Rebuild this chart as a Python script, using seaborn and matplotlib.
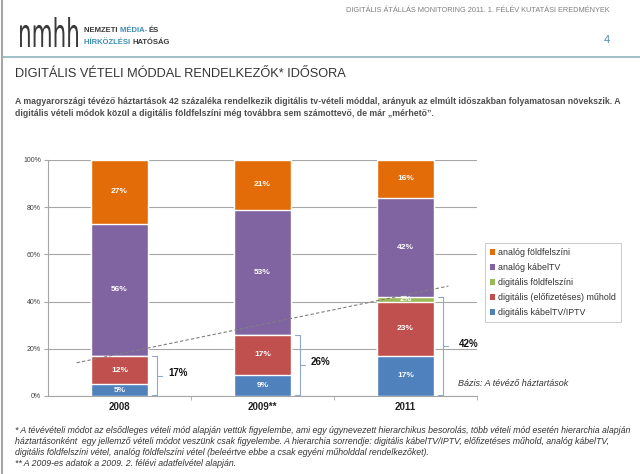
import numpy as np
import pandas as pd
import matplotlib
matplotlib.use("Agg")
import matplotlib.pyplot as plt
from matplotlib.patches import Patch, PathPatch
from matplotlib.lines import Line2D
from matplotlib.textpath import TextPath
from matplotlib.font_manager import FontProperties
from matplotlib.transforms import Affine2D
import seaborn as sns

# ---- data ----
years = ["2008", "2009**", "2011"]
series = ["digitális kábelTV/IPTV", "digitális (előfizetéses) műhold",
          "digitális földfelszíni", "analóg kábelTV", "analóg földfelszíni"]
dig_kabel = [5, 9, 17]
dig_muhold = [12, 17, 23]
dig_fold = [0, 0, 2]
an_kabel = [56, 53, 42]
an_fold = [27, 21, 16]
dig_total_labels = ["17%", "26%", "42%"]
yticks = [0, 20, 40, 60, 80, 100]

colors = {"digitális kábelTV/IPTV": "#4F81BD",
          "digitális (előfizetéses) műhold": "#C0504D",
          "digitális földfelszíni": "#9BBB59",
          "analóg kábelTV": "#8064A2",
          "analóg földfelszíni": "#E36C09"}

sns.set_style("white")
plt.rcParams["font.family"] = ["Liberation Sans", "DejaVu Sans"]

fig = plt.figure(figsize=(6.4, 4.74), dpi=100)
W, H = 640, 474
ax = fig.add_axes([48 / W, 1 - 396 / H, (477 - 48) / W, (396 - 160) / H])

vals = [dig_kabel, dig_muhold, dig_fold, an_kabel, an_fold]
df = pd.DataFrame({s: v for s, v in zip(series, vals)}, index=years)
cum = df.cumsum(axis=1)

# draw cumulative bars from top layer down (overlay stacking)
for s in reversed(series):
    d = pd.DataFrame({"year": years, "val": cum[s].values})
    sns.barplot(data=d, x="year", y="val", color=colors[s], width=0.4,
                saturation=1, ax=ax, zorder=3)

# labels in segments
for i, y in enumerate(years):
    base = 0
    for s in series:
        v = df.loc[y, s]
        if v > 0:
            ax.text(i, base + v / 2, f"{v}%",
                    ha="center", va="center", color="white",
                    fontsize=6, fontweight="bold", zorder=5)
        base += v

# grid & axes
ax.set_ylim(0, 100)
ax.set_xlim(-0.5, 2.5)
ax.set_yticks(yticks)
ax.set_yticklabels([f"{t}%" for t in yticks], fontsize=5, color="#404040")
ax.yaxis.grid(True, color="#A6A6A6", linewidth=0.8, zorder=0)
ax.set_axisbelow(True)
for sp in ["top", "right"]:
    ax.spines[sp].set_visible(False)
for sp in ["left", "bottom"]:
    ax.spines[sp].set_color("#A6A6A6")
    ax.spines[sp].set_linewidth(0.8)
ax.tick_params(axis="y", length=3, color="#A6A6A6", pad=2, left=True)
ax.set_xticks(range(len(years)))
ax.set_xticklabels(years, fontsize=7, fontweight="bold", color="#222222")
ax.tick_params(axis="x", length=0, pad=4)
ax.set_xticks([0.5, 1.5, 2.5], minor=True)
ax.tick_params(axis="x", which="minor", length=3, color="#A6A6A6", bottom=True)
ax.set_xlabel("")
ax.set_ylabel("")

# trend line of digital totals
totals = np.array(dig_kabel) + np.array(dig_muhold) + np.array(dig_fold)
xs = np.arange(len(years))
k, b = np.polyfit(xs, totals, 1)
xt = np.array([-0.3, 2.3])
ax.plot(xt, k * xt + b + 2, ls=(0, (3, 2)), color="#7F7F7F", lw=0.8, zorder=6)

# brackets
bc = "#8EA9C8"
for i, t in enumerate(totals):
    xb = i + 0.26
    ax.plot([xb - 0.03, xb, xb, xb - 0.03], [0.3, 0.3, t, t],
            color=bc, lw=0.8, zorder=6, clip_on=False)
    ax.plot([xb, xb + 0.04], [t / 2, t / 2], color=bc, lw=0.8, zorder=6,
            clip_on=False)
    ax.text(xb + 0.08 + (0.03 if i == 2 else 0), t / 2 + 1.2, dig_total_labels[i],
            fontsize=7, fontweight="bold", ha="left", va="center",
            color="#111111", clip_on=False)

# legend
handles = [Patch(facecolor=colors[s], edgecolor="none") for s in reversed(series)]
leg = fig.legend(handles, list(reversed(series)), loc="upper left",
                 bbox_to_anchor=(485 / W, 1 - 243 / H), frameon=True,
                 fontsize=6.4, handlelength=0.6, handleheight=0.6,
                 handletextpad=0.3, labelspacing=0.68, borderpad=0.55,
                 fancybox=False, borderaxespad=0)
leg.get_frame().set_edgecolor("#BFBFBF")
leg.get_frame().set_linewidth(0.7)
for t in leg.get_texts():
    t.set_color("#333333")

fig.text(458 / W, 1 - 383 / H, "Bázis: A tévéző háztartások", fontsize=6.5,
         style="italic", color="#333333", va="center")

# ---- slide decoration ----
renderer = fig.canvas.get_renderer()
fig.add_artist(Line2D([2 / W, 2 / W], [0, 1], color="#A6A6A6", lw=1.5))
fig.add_artist(Line2D([2 / W, 1], [1 - 57 / H, 1 - 57 / H], color="#8FB4BE", lw=1.2))
fig.text(610 / W, 1 - 10 / H,
         "DIGITÁLIS ÁTÁLLÁS MONITORING 2011. 1. FÉLÉV KUTATÁSI EREDMÉNYEK",
         fontsize=5.3, color="#7F7F7F", ha="right", va="center")
fig.text(610 / W, 1 - 40 / H, "4", fontsize=8, color="#4A8CA8", ha="right",
         va="center")

# logo: text path stretched into its box (x 20..78, y 17..47 px)
tp = TextPath((0, 0), "nmhh", size=1, prop=FontProperties(family="DejaVu Sans"))
ext = tp.get_extents()
bx0, bx1, by0, by1 = 20 / W, 78 / W, 1 - 47 / H, 1 - 17 / H
tr = (Affine2D().translate(-ext.x0, -ext.y0)
      .scale((bx1 - bx0) / ext.width, (by1 - by0) / ext.height)
      .translate(bx0, by0) + fig.transFigure)
fig.add_artist(PathPatch(tp, transform=tr, facecolor="#3A3A3A", edgecolor="none"))


def chain(x, y, parts):
    for txt, col in parts:
        t = fig.text(x / W, 1 - y / H, txt, fontsize=5.5, color=col,
                     ha="left", va="center", fontweight="bold")
        bb = t.get_window_extent(renderer=renderer)
        x += bb.width


chain(84, 31, [("NEMZETI ", "#3A3A3A"), ("MÉDIA- ", "#3D8DB0"), ("ÉS", "#3A3A3A")])
chain(84, 42, [("HÍRKÖZLÉSI ", "#3D8DB0"), ("HATÓSÁG", "#3A3A3A")])

fig.text(15 / W, 1 - 74 / H, "DIGITÁLIS VÉTELI MÓDDAL RENDELKEZŐK* IDŐSORA",
         fontsize=9.2, color="#333333", ha="left", va="center")
body = ("A magyarországi tévéző háztartások 42 százaléka rendelkezik digitális tv-vételi móddal, "
        "arányuk az elmúlt időszakban folyamatosan növekszik. A\n"
        "digitális vételi módok közül a digitális földfelszíni még továbbra sem számottevő, de már „mérhető”.")
fig.text(15 / W, 1 - 97.5 / H, body, fontsize=6.3, color="#4D4D4D", ha="left",
         va="top", fontweight="bold", linespacing=1.4)

foot = ("* A tévévételi módot az elsődleges vételi mód alapján vettük figyelembe, ami egy úgynevezett hierarchikus besorolás, több vételi mód esetén hierarchia alapján\n"
        "háztartásonként  egy jellemző vételi módot veszünk csak figyelembe. A hierarchia sorrendje: digitális kábelTV/IPTV, előfizetéses műhold, analóg kábelTV,\n"
        "digitális földfelszíni vétel, analóg földfelszíni vétel (beleértve ebbe a csak egyéni műholddal rendelkezőket).\n"
        "** A 2009-es adatok a 2009. 2. félévi adatfelvétel alapján.")
fig.text(15 / W, 1 - 426 / H, foot, fontsize=6.3, color="#333333", ha="left",
         va="top", style="italic", linespacing=1.3)

fig.savefig("out.png", dpi=100)
